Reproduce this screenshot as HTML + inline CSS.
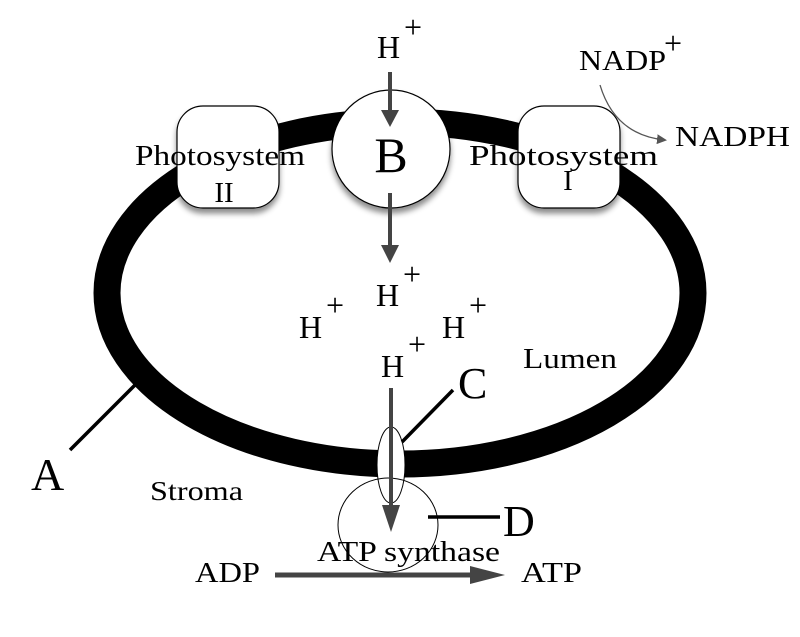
<!DOCTYPE html>
<html><head><style>
body{margin:0;background:#fff;}
svg text{font-family:"Liberation Serif",serif;fill:#000;}
</style></head><body>
<svg width="800" height="632" viewBox="0 0 800 632" xmlns="http://www.w3.org/2000/svg">
<defs>
<marker id="ah" markerWidth="10" markerHeight="10" refX="8" refY="5" orient="auto" markerUnits="userSpaceOnUse"><path d="M0,0 L10,5 L0,10 z" fill="#555"/></marker>
<filter id="sh" x="-20%" y="-20%" width="140%" height="150%"><feDropShadow dx="0" dy="5" stdDeviation="3" flood-color="#000" flood-opacity="0.45"/></filter>
</defs>
<ellipse cx="400" cy="293" rx="293" ry="171" fill="none" stroke="#000" stroke-width="27"/>
<!-- photosystems -->
<rect x="177" y="106" width="102" height="102" rx="26" fill="#fff" stroke="#000" stroke-width="1.2" filter="url(#sh)"/>
<rect x="518" y="106" width="102" height="102" rx="26" fill="#fff" stroke="#000" stroke-width="1.2" filter="url(#sh)"/>
<circle cx="391" cy="149" r="59" fill="#fff" stroke="#000" stroke-width="1.2" filter="url(#sh)"/>
<text x="135" y="165" font-size="29" textLength="170" lengthAdjust="spacingAndGlyphs">Photosystem</text>
<text x="224" y="202" font-size="29" text-anchor="middle">II</text>
<text x="469" y="165" font-size="29" textLength="189" lengthAdjust="spacingAndGlyphs">Photosystem</text>
<text x="568" y="190" font-size="29" text-anchor="middle">I</text>
<text x="391" y="172" font-size="50" text-anchor="middle">B</text>
<!-- arrows through B -->
<line x1="390" y1="72" x2="390" y2="115" stroke="#444" stroke-width="4"/>
<path d="M381,110 L399,110 L390,127 z" fill="#444"/>
<line x1="390" y1="193" x2="390" y2="250" stroke="#444" stroke-width="4"/>
<path d="M381,245 L399,245 L390,263 z" fill="#444"/>
<!-- H+ -->
<g font-size="32">
<text x="377" y="58">H</text><text x="404" y="38">+</text>
<text x="376" y="306">H</text><text x="403" y="285">+</text>
<text x="299" y="338">H</text><text x="326" y="316">+</text>
<text x="442" y="338">H</text><text x="469" y="316">+</text>
<text x="381" y="377">H</text><text x="408" y="355">+</text>
</g>
<!-- NADP -->
<text x="579" y="70" font-size="28" textLength="87" lengthAdjust="spacingAndGlyphs">NADP</text><text x="664" y="54" font-size="32">+</text>
<text x="675" y="146" font-size="28" textLength="115" lengthAdjust="spacingAndGlyphs">NADPH</text>
<path d="M600,85 Q615,135 665,140" fill="none" stroke="#555" stroke-width="1.3" marker-end="url(#ah)"/>
<text x="523" y="368" font-size="28" textLength="94" lengthAdjust="spacingAndGlyphs">Lumen</text>
<text x="150" y="500" font-size="27" textLength="93" lengthAdjust="spacingAndGlyphs">Stroma</text>
<!-- A -->
<line x1="135" y1="385" x2="70" y2="450" stroke="#000" stroke-width="3.5"/>
<text x="31" y="490" font-size="46">A</text>
<!-- C -->
<ellipse cx="391" cy="465" rx="14" ry="38" fill="#fff" stroke="#000" stroke-width="1"/>
<line x1="453" y1="390" x2="402" y2="442" stroke="#000" stroke-width="3.5"/>
<text x="458" y="398" font-size="44">C</text>
<!-- D -->
<ellipse cx="388" cy="525" rx="50" ry="47" fill="none" stroke="#000" stroke-width="1"/>
<line x1="428" y1="517" x2="500" y2="517" stroke="#000" stroke-width="3.5"/>
<text x="503" y="536" font-size="44">D</text>
<line x1="391" y1="388" x2="391" y2="510" stroke="#444" stroke-width="4"/>
<path d="M382,505 L400,505 L391,532 z" fill="#444"/>
<text x="317" y="561" font-size="28" textLength="183" lengthAdjust="spacingAndGlyphs">ATP synthase</text>
<text x="195" y="582" font-size="28" textLength="65" lengthAdjust="spacingAndGlyphs">ADP</text>
<text x="521" y="582" font-size="28" textLength="61" lengthAdjust="spacingAndGlyphs">ATP</text>
<line x1="275" y1="575" x2="475" y2="575" stroke="#444" stroke-width="5"/>
<path d="M470,566 L505,575 L470,584 z" fill="#444"/>
</svg>
</body></html>
